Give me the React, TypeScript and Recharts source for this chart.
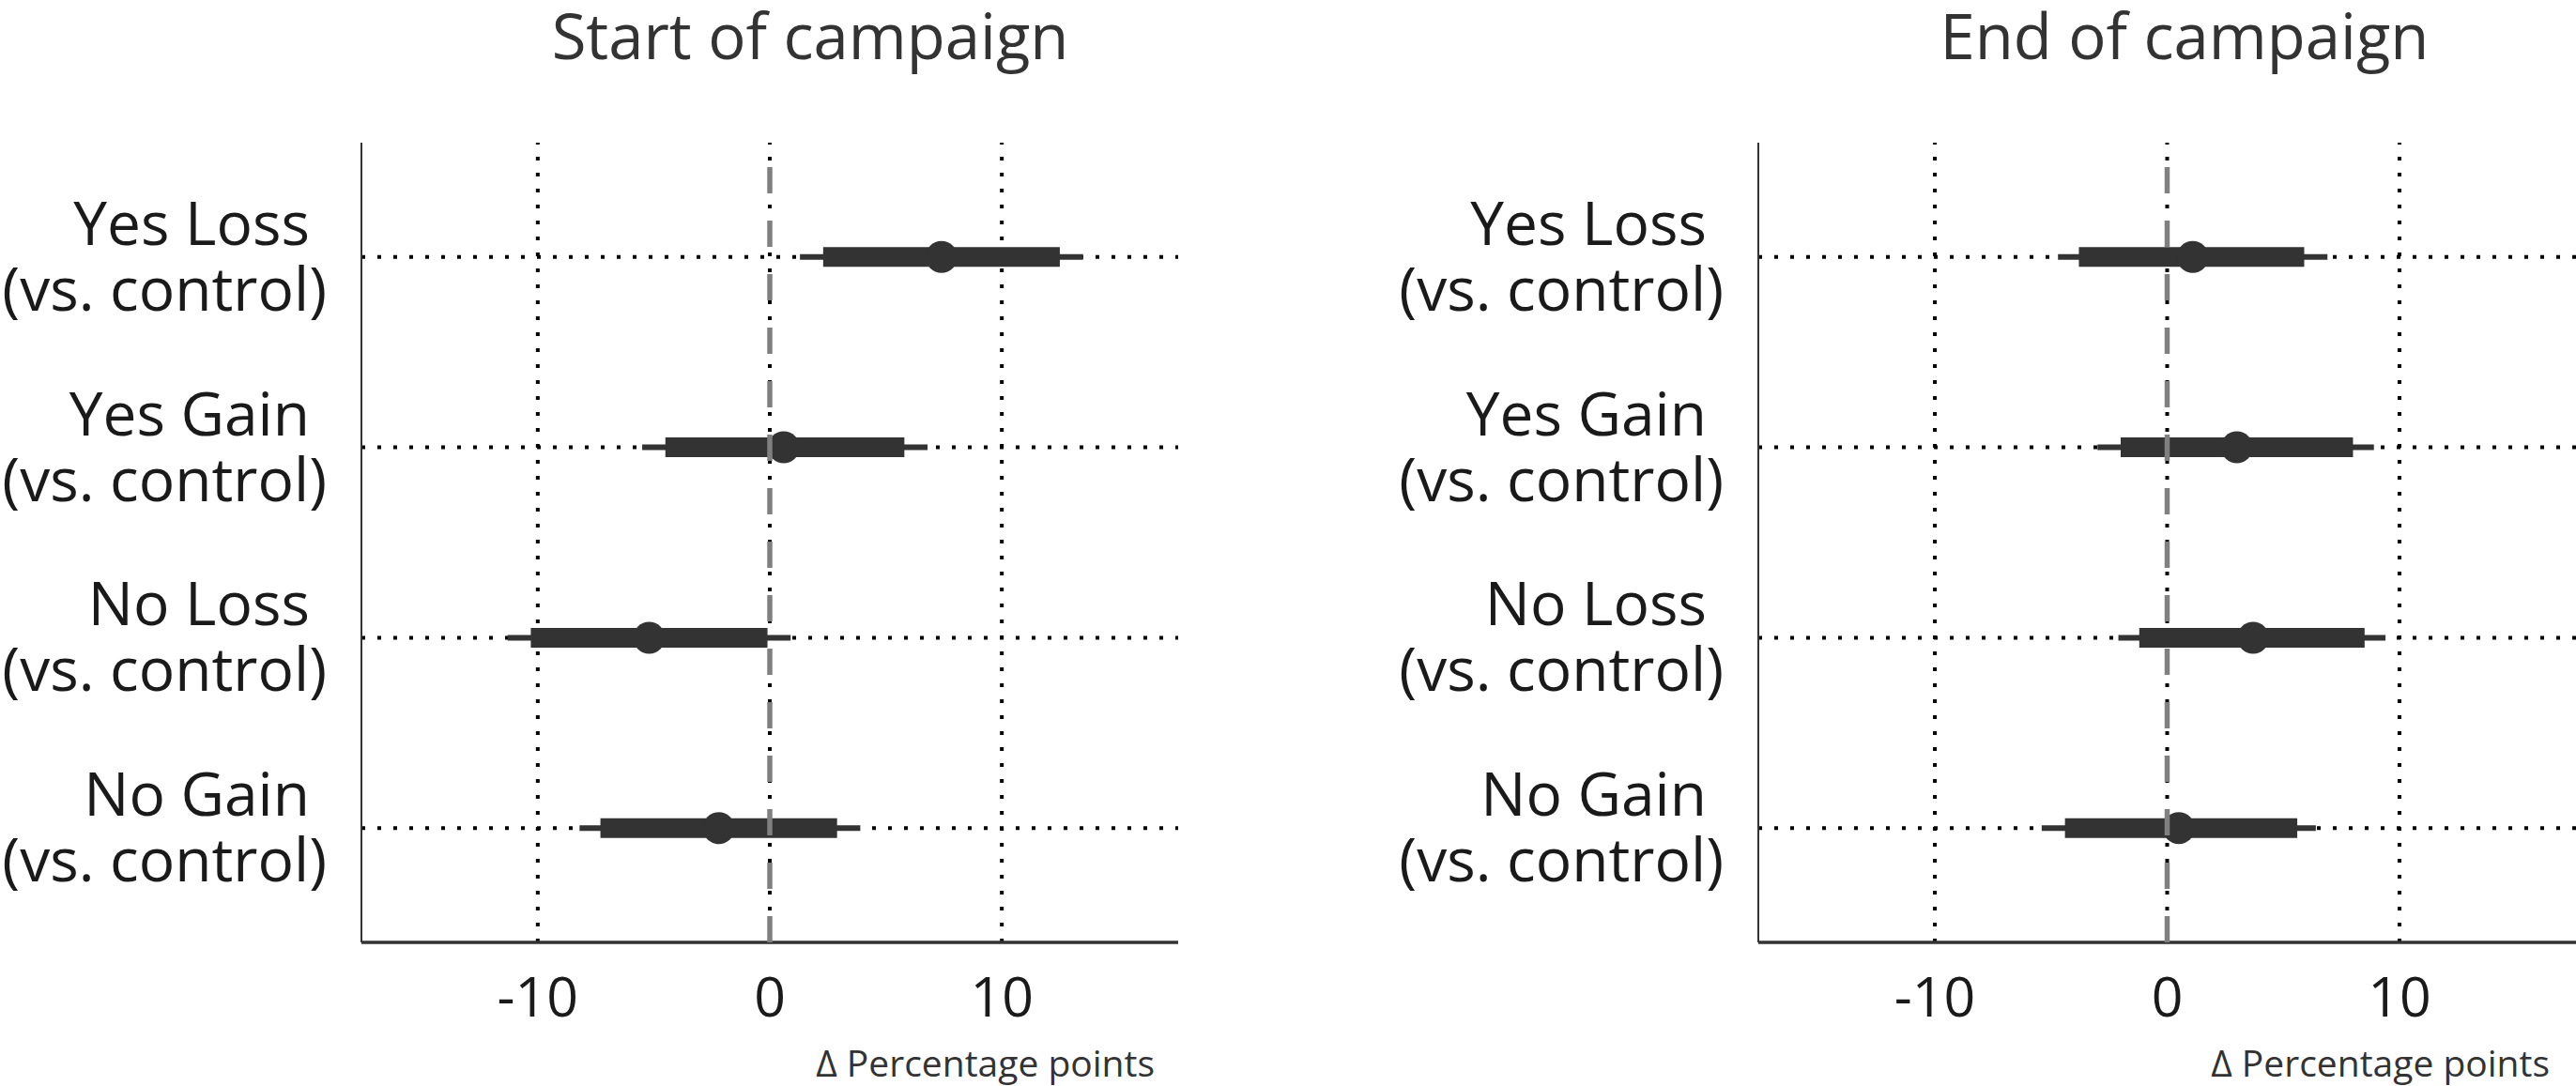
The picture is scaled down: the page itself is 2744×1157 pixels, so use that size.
import {
  ComposedChart,
  Scatter,
  ErrorBar,
  XAxis,
  YAxis,
  ReferenceLine,
} from 'recharts';

const categories = ['Yes Loss', 'Yes Gain', 'No Loss', 'No Gain'];
const rowTicks = [1, 2, 3, 4];
const xTicks = [-10, 0, 10];

// start of campaign: estimate, thick interval, thin interval
const startEst = [7.4, 0.6, -5.2, -2.2];
const startInnerLo = [2.3, -4.5, -10.3, -7.3];
const startInnerHi = [12.5, 5.8, -0.1, 2.9];
const startOuterLo = [1.3, -5.5, -11.3, -8.2];
const startOuterHi = [13.5, 6.8, 0.9, 3.9];

// end of campaign
const endEst = [1.1, 3.0, 3.7, 0.5];
const endInnerLo = [-3.8, -2.0, -1.2, -4.4];
const endInnerHi = [5.9, 8.0, 8.5, 5.6];
const endOuterLo = [-4.7, -3.0, -2.1, -5.4];
const endOuterHi = [6.9, 8.9, 9.4, 6.4];

const FONT = '"Open Sans", "Noto Sans", sans-serif';
const INK = '#333333';

function buildRows(est: number[], iLo: number[], iHi: number[], oLo: number[], oHi: number[]) {
  return est.map((e, i) => ({
    row: i + 1,
    est: e,
    inner: [e - iLo[i], iHi[i] - e],
    outer: [e - oLo[i], oHi[i] - e],
  }));
}

const CategoryTick = (props: any) => {
  const { x, y, payload } = props;
  const name = categories[payload.value - 1];
  return (
    <text textAnchor="end" fontSize={64} fill="#1a1a1a" fontFamily={FONT}>
      <tspan x={x - 55} y={y - 13}>{name}</tspan>
      <tspan x={x - 37} y={y + 57}>(vs. control)</tspan>
    </text>
  );
};

const ValueTick = (props: any) => {
  const { x, y, payload } = props;
  return (
    <text x={x} y={y + 79} textAnchor="middle" fontSize={59} fill="#1a1a1a" fontFamily={FONT}>
      {payload.value}
    </text>
  );
};

interface PanelProps {
  title: string;
  rows: ReturnType<typeof buildRows>;
  yAxisWidth: number;
  marginRight: number;
  titleCenter: number;
  axisTitleRight: number;
}

function Panel({ title, rows, yAxisWidth, marginRight, titleCenter, axisTitleRight }: PanelProps) {
  return (
    <div style={{ position: 'relative', width: 1372, height: 1157 }}>
      <div
        style={{
          position: 'absolute',
          top: 4,
          left: titleCenter - 400,
          width: 800,
          textAlign: 'center',
          fontFamily: FONT,
          fontSize: 67,
          lineHeight: 1,
          color: INK,
          whiteSpace: 'nowrap',
        }}
      >
        {title}
      </div>
      <ComposedChart
        width={1372}
        height={1157}
        data={rows}
        margin={{ top: 152, right: marginRight, bottom: 0, left: 0 }}
      >
        <XAxis
          type="number"
          dataKey="est"
          domain={[-17.6, 17.6]}
          ticks={xTicks}
          allowDataOverflow
          height={153}
          tickSize={0}
          tickMargin={0}
          tickLine={false}
          axisLine={{ stroke: INK, strokeWidth: 3.5 }}
          tick={<ValueTick />}
        />
        <YAxis
          type="number"
          dataKey="row"
          domain={[0.4, 4.6]}
          ticks={rowTicks}
          interval={0}
          reversed
          allowDataOverflow
          width={yAxisWidth}
          tickSize={0}
          tickMargin={0}
          tickLine={false}
          axisLine={{ stroke: INK, strokeWidth: 2 }}
          tick={<CategoryTick />}
        />
        {/* dotted grid only at the ticks, not at the panel edges */}
        {xTicks.map((t) => (
          <ReferenceLine
            key={`gx${t}`}
            x={t}
            stroke="#000"
            strokeWidth={4}
            strokeDasharray="4 13"
            zIndex={-50}
          />
        ))}
        {rowTicks.map((t) => (
          <ReferenceLine
            key={`gy${t}`}
            y={t}
            stroke="#000"
            strokeWidth={4}
            strokeDasharray="4 13"
            zIndex={-50}
          />
        ))}
        <Scatter
          data={rows}
          fill={INK}
          isAnimationActive={false}
          shape={(p: any) => <circle cx={p.cx} cy={p.cy} r={17} fill={INK} />}
        >
          <ErrorBar dataKey="outer" direction="x" width={0} strokeWidth={6} stroke={INK} isAnimationActive={false} />
          <ErrorBar dataKey="inner" direction="x" width={0} strokeWidth={21} stroke={INK} isAnimationActive={false} />
        </Scatter>
        <ReferenceLine
          x={0}
          stroke="#808080"
          strokeWidth={5.5}
          strokeDasharray="28 29"
          zIndex={1000}
        />
      </ComposedChart>
      <div
        style={{
          position: 'absolute',
          top: 1112,
          right: axisTitleRight,
          fontFamily: FONT,
          fontSize: 39,
          lineHeight: 1,
          color: INK,
          whiteSpace: 'nowrap',
        }}
      >
        Δ Percentage points
      </div>
    </div>
  );
}

export default function App() {
  const startRows = buildRows(startEst, startInnerLo, startInnerHi, startOuterLo, startOuterHi);
  const endRows = buildRows(endEst, endInnerLo, endInnerHi, endOuterLo, endOuterHi);
  return (
    <div
      style={{
        position: 'absolute',
        left: 0,
        top: 0,
        width: 2744,
        height: 1157,
        overflow: 'hidden',
        background: '#fff',
        display: 'flex',
      }}
    >
      <Panel
        title="Start of campaign"
        rows={startRows}
        yAxisWidth={385}
        marginRight={117}
        titleCenter={863}
        axisTitleRight={142}
      />
      <Panel
        title="End of campaign"
        rows={endRows}
        yAxisWidth={501}
        marginRight={0}
        titleCenter={955}
        axisTitleRight={28}
      />
    </div>
  );
}
